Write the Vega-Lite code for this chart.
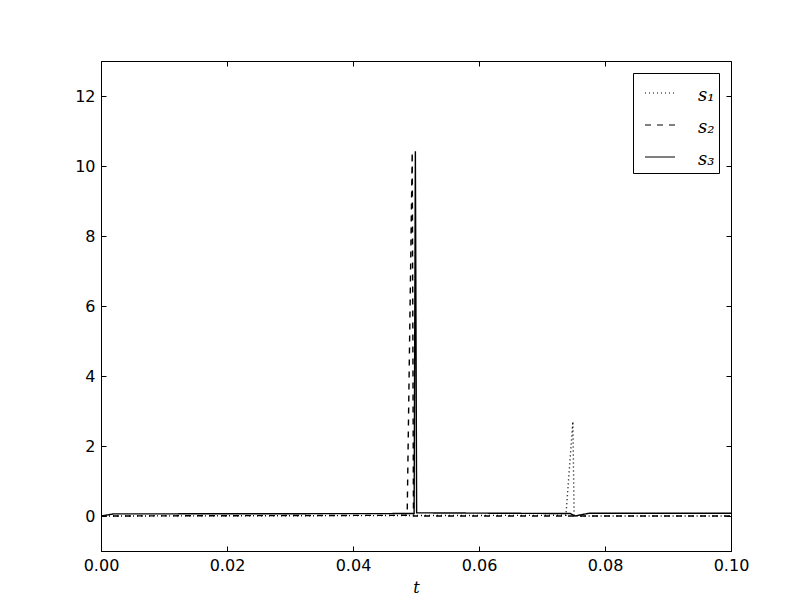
{
  "$schema": "https://vega.github.io/schema/vega-lite/v6.json",
  "width": 630,
  "height": 490,
  "autosize": "none",
  "padding": {"left": 101, "top": 61, "right": 81, "bottom": 61},
  "background": "white",
  "config": {
    "view": {"stroke": "black", "strokeWidth": 1},
    "axis": {"grid": false, "domainColor": "black", "tickColor": "black", "tickSize": -5, "labelFont": "DejaVu Sans", "labelFontSize": 16, "labelColor": "black", "titleColor": "black", "labelFlush": false}
  },
  "data": {"values": [
    {"t": 0.0, "v": 0.0, "s": "s1"},
    {"t": 0.0738, "v": 0.02, "s": "s1"},
    {"t": 0.0749, "v": 2.7, "s": "s1"},
    {"t": 0.0751, "v": 0.0, "s": "s1"},
    {"t": 0.1, "v": 0.0, "s": "s1"},
    {"t": 0.0, "v": 0.0, "s": "s2"},
    {"t": 0.0486, "v": 0.02, "s": "s2"},
    {"t": 0.0494, "v": 10.4, "s": "s2"},
    {"t": 0.0496, "v": 0.0, "s": "s2"},
    {"t": 0.1, "v": 0.0, "s": "s2"},
    {"t": 0.0, "v": 0.0, "s": "s3"},
    {"t": 0.002, "v": 0.06, "s": "s3"},
    {"t": 0.0497, "v": 0.07, "s": "s3"},
    {"t": 0.0499, "v": 10.42, "s": "s3"},
    {"t": 0.0501, "v": 0.09, "s": "s3"},
    {"t": 0.0745, "v": 0.07, "s": "s3"},
    {"t": 0.0752, "v": 0.0, "s": "s3"},
    {"t": 0.0775, "v": 0.08, "s": "s3"},
    {"t": 0.1, "v": 0.08, "s": "s3"}
  ]},
  "layer": [
    {
      "mark": {"type": "line", "color": "black", "strokeWidth": 1.4, "clip": true},
      "encoding": {
        "x": {"field": "t", "type": "quantitative", "scale": {"domain": [0, 0.1], "nice": false, "zero": false},
              "axis": {"values": [0, 0.02, 0.04, 0.06, 0.08, 0.1], "format": ".2f", "title": "t", "titleFont": "DejaVu Serif", "titleFontStyle": "italic", "titleFontWeight": "normal", "titleFontSize": 16, "titlePadding": 6, "labelPadding": 11}},
        "y": {"field": "v", "type": "quantitative", "scale": {"domain": [-1, 13], "nice": false, "zero": false},
              "axis": {"values": [0, 2, 4, 6, 8, 10, 12], "title": null, "labelPadding": 11}},
        "strokeDash": {"field": "s", "type": "nominal",
          "scale": {"domain": ["s1", "s2", "s3"], "range": [[1, 3], [6, 6], [1, 0]]},
          "legend": {"title": null, "orient": "none", "legendX": 532, "legendY": 12, "symbolType": "stroke", "symbolSize": 900, "symbolStrokeColor": "black", "symbolStrokeWidth": 1.2, "symbolOffset": 7,
                     "labelExpr": "datum.label == 's1' ? 's₁' : datum.label == 's2' ? 's₂' : 's₃'",
                     "labelFont": "DejaVu Serif", "labelFontStyle": "italic", "labelFontSize": 18, "labelColor": "black", "labelOffset": 22,
                     "strokeColor": "black", "fillColor": "white", "padding": 4, "rowPadding": 4,
                     "encode": {"labels": {"update": {"dy": {"value": 3}}}}}
        },
        "order": {"field": "t", "type": "quantitative"}
      }
    },
    {
      "mark": {"type": "rule", "opacity": 0},
      "encoding": {
        "x": {"datum": 0, "type": "quantitative", "axis": {"orient": "top", "values": [0, 0.02, 0.04, 0.06, 0.08, 0.1], "labels": false, "title": null, "domain": false}},
        "y": {"datum": 0, "type": "quantitative", "axis": {"orient": "right", "values": [0, 2, 4, 6, 8, 10, 12], "labels": false, "title": null, "domain": false}}
      }
    }
  ],
  "resolve": {"axis": {"x": "independent", "y": "independent"}}
}
